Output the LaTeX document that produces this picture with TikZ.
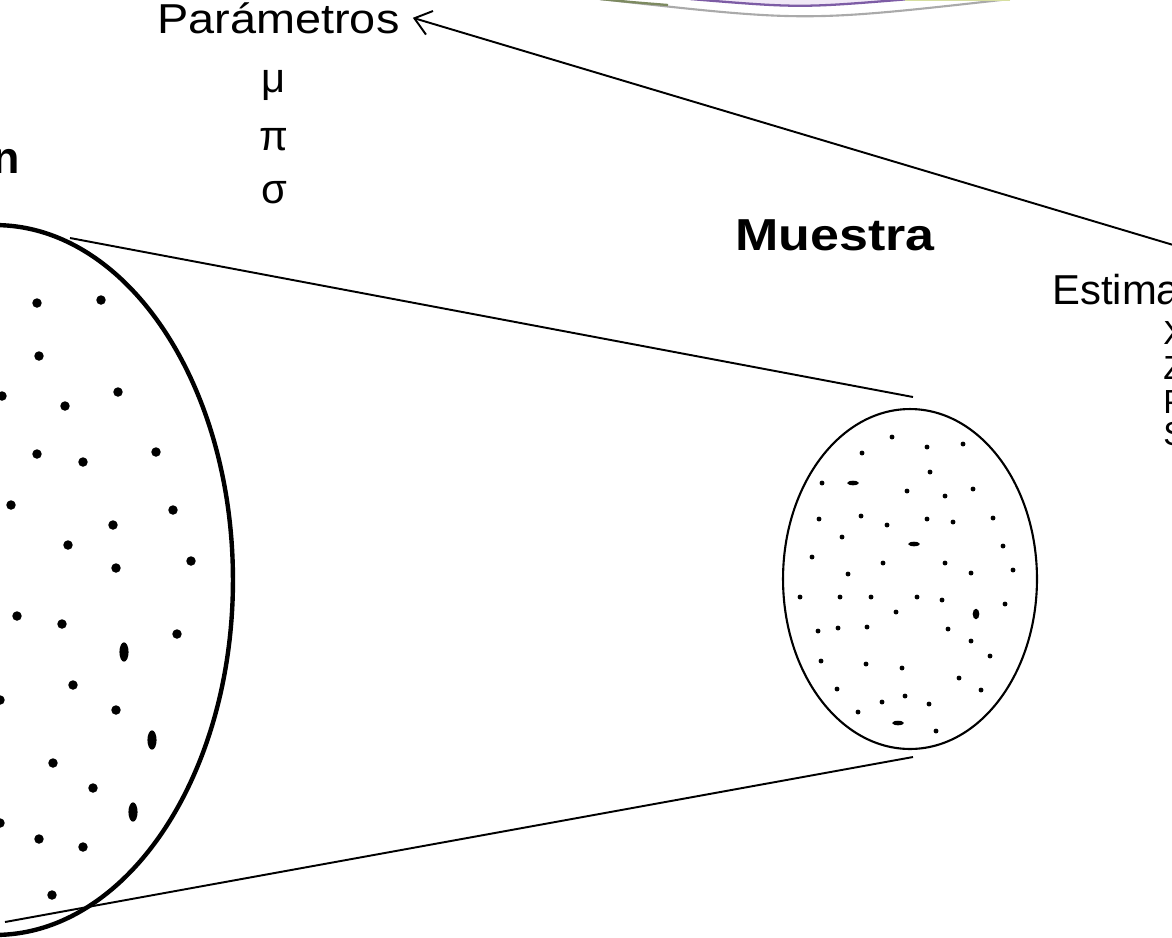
\documentclass[tikz,border=0pt]{standalone}
\usepackage{fontspec}
\setmainfont{Liberation Sans}
\usetikzlibrary{arrows.meta}
\definecolor{decogray}{RGB}{170,170,170}
\definecolor{decopurple}{RGB}{125,92,165}
\definecolor{decoolive}{RGB}{125,138,96}
\definecolor{decolime}{RGB}{214,222,160}
\definecolor{decolav}{RGB}{240,232,246}
\tikzset{
  lbl/.style={inner sep=0pt, font=\fontsize{23.8pt}{26pt}\selectfont},
  small lbl/.style={inner sep=0pt, font=\fontsize{19pt}{21pt}\selectfont},
  bold lbl/.style={inner sep=0pt, font=\fontsize{25.5pt}{28pt}\selectfont\bfseries},
  bigdot/.style={fill=black},
  smalldot/.style={fill=black},
  pop/.style={draw=black, line width=2.5pt},
  samp/.style={draw=black, line width=1.2pt},
  tangent/.style={draw=black, line width=1.1pt},
  arr/.style={draw=black, line width=1.1pt, -{Straight Barb[length=9pt,width=14pt]}}
}
\begin{document}
\begin{tikzpicture}[x=0.02cm,y=-0.02cm]
\useasboundingbox (0,0) rectangle (1172,937);
\clip (0,0) rectangle (1172,937);
\fill[white] (0,0) rectangle (1172,937);
% decoration at top
\fill[decolav] (690,-1) .. controls (800,8) .. (910,-1) -- cycle;
\draw[decogray, line width=1.2pt] (600,-1) .. controls (805,22) .. (1010,-1);
\draw[decoolive, line width=1.3pt] (600,-1) .. controls (630,2) .. (668,5);
\draw[decopurple, line width=1.3pt] (690,-1) .. controls (800,8) .. (910,-1);
\draw[decolime, line width=1.5pt] (905,0) -- (1010,0);
% population ellipse
\coordinate (popc) at (-5,580);
\draw[pop] (popc) ellipse [x radius=4.76cm, y radius=7.1cm];
\coordinate (popT) at (70,238);
\coordinate (popB) at (5,922);
% sample ellipse
\coordinate (sampc) at (910,579);
\draw[samp] (sampc) ellipse [x radius=2.54cm, y radius=3.4cm];
\coordinate (sampT) at (913,397);
\coordinate (sampB) at (913,757);
\draw[tangent] (popT) -- (sampT);
\draw[tangent] (popB) -- (sampB);
% population dots
\foreach \x/\y in {37/303,101/300,39/356,2/396,118/392,65/406,37/454,83/462,156/452,11/505,173/510,113/525,68/545,116/568,191/561,17/616,62/624,177/634,73/685,0/700,116/710,53/763,93/788,0/823,39/839,83/847,52/895}
  \fill[bigdot] (\x,\y) circle (2.7pt);
\foreach \x/\y in {124/652,152/740,133/812}
  \fill[bigdot] (\x,\y) ellipse [x radius=2.6pt, y radius=5.5pt];
% sample dots
\foreach \x/\y in {892/437,862/453,927/447,963/444,930/472,822/483,907/491,945/496,973/489,819/519,861/516,887/525,927/519,953/522,993/518,842/537,1003/546,812/557,883/563,945/563,848/574,971/573,1013/570,800/597,840/597,871/597,917/597,942/600,1005/604,896/612,818/631,838/628,867/627,948/629,971/641,821/661,866/664,902/668,990/656,959/678,837/689,981/690,905/696,882/702,929/704,858/712,936/731}
  \fill[smalldot] (\x,\y) circle (1.4pt);
\fill[smalldot] (976,614) ellipse [x radius=1.9pt, y radius=3pt];
\foreach \x/\y in {853/483,914/544,898/723}
  \fill[smalldot] (\x,\y) ellipse [x radius=3.3pt, y radius=1.3pt];
% labels
\node[lbl, anchor=base west, xscale=1.12] (param) at (157,33) {Parámetros};
\node[lbl, anchor=base] (mu) at (274,92) {μ};
\node[lbl, anchor=base] (pi) at (274,150) {π};
\node[lbl, anchor=base] (sigma) at (274,203) {σ};
\node[bold lbl, anchor=base west, xscale=1.16] (muestra) at (735,250) {Muestra};
\node[bold lbl, anchor=base east] (pob) at (20,173) {n};
\node[lbl, anchor=base west] (est) at (1052,304) {Estima};
\node[small lbl, anchor=base west] (sx) at (1163,344) {X};
\node[small lbl, anchor=base west] (sz) at (1163,379) {Z};
\node[small lbl, anchor=base west] (sp) at (1163,413) {P};
\node[small lbl, anchor=base west] (ss) at (1163,445) {S};
\coordinate (estA) at (1190,250);
\draw[arr] (estA) -- ([xshift=0.26cm]param.east);
\end{tikzpicture}
\end{document}
